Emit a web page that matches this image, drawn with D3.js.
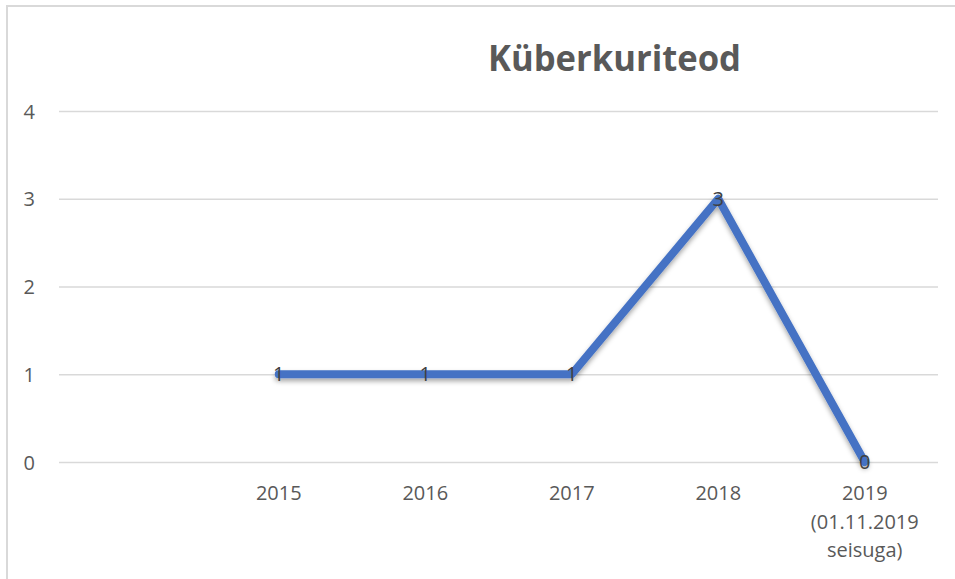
<!DOCTYPE html>
<html><head><meta charset="utf-8">
<script src="https://cdn.jsdelivr.net/npm/d3@7/dist/d3.min.js"></script>
<style>body{margin:0;background:#fff}svg{display:block}</style>
</head><body>
<svg id="c" width="955" height="579"></svg>
<script>
const categories = ["", "2015", "2016", "2017", "2018", "2019\n(01.11.2019\nseisuga)"];
const values = [null, 1, 1, 1, 3, 0];
const yTicks = [0, 1, 2, 3, 4];
const title = "Küberkuriteod";

const svg = d3.select("#c");
const font = "'Open Sans', 'Noto Sans', sans-serif";
const defs = svg.append("defs");
const f = defs.append("filter").attr("id","sh").attr("x","-10%").attr("y","-10%").attr("width","120%").attr("height","130%");
f.append("feDropShadow").attr("dx",0).attr("dy",3).attr("stdDeviation",2.5).attr("flood-color","#000").attr("flood-opacity",0.35);

// chart border
svg.append("path").attr("d","M7,579 V6 H955").attr("fill","none").attr("stroke","#d9d9d9").attr("stroke-width",2);

const x = d3.scaleBand().domain(d3.range(categories.length)).range([59, 938]);
const y = d3.scaleLinear().domain([0, 4]).range([462, 111]);

svg.append("text").attr("x", 614.5).attr("y", 71).attr("text-anchor","middle")
  .attr("font-family", font).attr("font-weight","bold").attr("font-size", 35)
  .attr("fill","#595959").attr("textLength", 253).attr("lengthAdjust","spacingAndGlyphs").text(title);

const gy = svg.append("g").attr("transform","translate(59,0)")
  .call(d3.axisLeft(y).tickValues(yTicks).tickSize(-879).tickPadding(24).tickFormat(d3.format("d")));
gy.select(".domain").remove();
gy.selectAll("line").attr("stroke","#d9d9d9").attr("stroke-width",1.3);
gy.selectAll("text").attr("font-family", font).attr("font-size",20).attr("fill","#595959").attr("dy","0.36em");

const gx = svg.append("g").attr("transform","translate(0,462)")
  .call(d3.axisBottom(x).tickSize(0).tickFormat(() => ""));
gx.select(".domain").remove();
gx.selectAll(".tick").each(function(i){
  const t = d3.select(this).append("text").attr("font-family", font).attr("font-size",20)
    .attr("fill","#595959").attr("text-anchor","middle");
  categories[i].split("\n").forEach((s, k) => {
    t.append("tspan").attr("x",0).attr("y", 38 + k*28.5).text(s);
  });
});

const pts = values.map((v,i)=>({i,v})).filter(d=>d.v!==null);
const cx = i => x(i) + x.bandwidth()/2;
svg.append("path").datum(pts)
  .attr("d", d3.line().x(d=>cx(d.i)).y(d=>y(d.v)))
  .attr("fill","none").attr("stroke","#4472c4").attr("stroke-width",8)
  .attr("stroke-linejoin","round").attr("stroke-linecap","round").attr("filter","url(#sh)");

svg.append("g").selectAll("text").data(pts).join("text")
  .attr("x", d=>cx(d.i)).attr("y", d=>y(d.v)+7).attr("text-anchor","middle")
  .attr("font-family", font).attr("font-size",20).attr("fill","#404040").text(d=>d.v);
</script>
</body></html>
